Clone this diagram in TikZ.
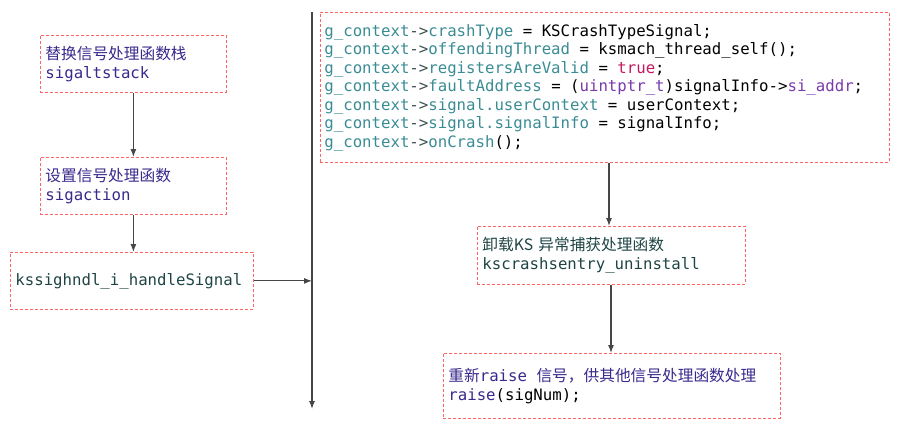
\documentclass[tikz,border=0pt]{standalone}
\usepackage{fontspec}
\setmonofont{DejaVu Sans Mono}
\newfontfamily\cjk{Noto Sans CJK SC}
\usetikzlibrary{arrows.meta}
\definecolor{indig}{RGB}{58,40,140}
\definecolor{dteal}{RGB}{30,68,68}
\definecolor{ctxc}{RGB}{58,140,148}
\definecolor{arrc}{RGB}{60,80,80}
\definecolor{kwc}{RGB}{196,24,96}
\definecolor{typc}{RGB}{122,58,170}
\definecolor{boxred}{RGB}{255,100,100}
\definecolor{linec}{RGB}{70,70,70}
\newcommand\ctx{\textcolor{ctxc}{g\_context}\textcolor{arrc}{->}}
\newcommand\mem[1]{\textcolor{ctxc}{#1}}
\newcommand\SP{\hbox to 9.45pt{}}
\newcommand\EQ{\SP=\SP}
\newcommand\boxfont{\fontsize{15.7}{18.5}\selectfont\ttfamily}
\tikzset{
  dbox/.style={draw=boxred, dashed, dash pattern=on 3pt off 2pt, line width=0.8pt,
     align=left, inner xsep=5pt, inner ysep=0pt, anchor=north west,
     font=\boxfont},
  conn/.style={draw=linec, line width=1.1pt, -{Latex[length=8pt,width=6pt]}}
}
\begin{document}
\begin{tikzpicture}[x=1pt,y=-1pt]
\useasboundingbox (0,0) rectangle (900,428);
\node[dbox, minimum width=186pt, minimum height=57pt, text width=176pt, text=indig] (b1) at (40,35)
  {{\cjk 替换信号处理函数栈}\\sigaltstack};
\node[dbox, minimum width=186pt, minimum height=57pt, text width=176pt, text=indig] (b2) at (40,157)
  {{\cjk 设置信号处理函数}\\sigaction};
\node[dbox, minimum width=243pt, minimum height=57pt, text width=233pt, text=dteal] (b3) at (10,252)
  {kssighndl\_i\_handleSignal};
\node[dbox, minimum width=569pt, minimum height=150pt, text width=561pt, inner xsep=4pt, text=black] (b4) at (320,12)
  {\ctx\mem{crashType}\EQ KSCrashTypeSignal;\\
   \ctx\mem{offendingThread}\EQ ksmach\_thread\_self();\\
   \ctx\mem{registersAreValid}\EQ\textcolor{kwc}{true};\\
   \ctx\mem{faultAddress}\EQ(\textcolor{typc}{uintptr\_t})signalInfo->\textcolor{typc}{si\_addr};\\
   \ctx\mem{signal.userContext}\EQ userContext;\\
   \ctx\mem{signal.signalInfo}\EQ signalInfo;\\
   \ctx\mem{onCrash}();};
\node[dbox, minimum width=268pt, minimum height=58pt, text width=258pt, text=dteal] (b5) at (477,226)
  {{\cjk 卸载KS 异常捕获处理函数}\\kscrashsentry\_uninstall};
\node[dbox, minimum width=337pt, minimum height=65pt, text width=327pt, text=indig] (b6) at (443,353)
  {{\cjk 重新}raise\SP{\cjk 信号，供其他信号处理函数处理}\\raise\textcolor{black}{(sigNum);}};
\coordinate (vtop) at (312,12);
\coordinate (vbot) at (312,409);
\draw[conn] (vtop) -- (vbot);
\draw[conn] (b1.south) -- (b2.north);
\draw[conn] (b2.south) -- (b3.north -| b2.south);
\draw[conn] (b3.east) -- (b3.east -| vtop);
\draw[conn] (b4.south -| 609,0) -- (b5.north -| 609,0);
\draw[conn] (b5.south -| 611,0) -- (b6.north -| 611,0);
\end{tikzpicture}
\end{document}
